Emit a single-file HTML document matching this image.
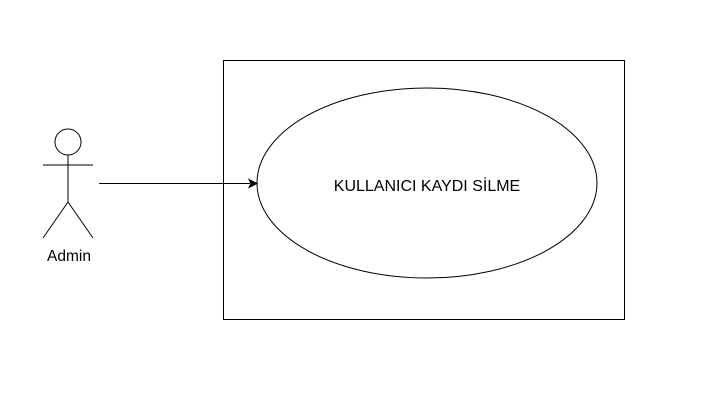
<!DOCTYPE html>
<html><head><style>html,body{margin:0;padding:0;background:#fff;}svg{display:block;}</style></head>
<body>
<svg width="728" height="412" xmlns="http://www.w3.org/2000/svg">
<rect x="223.5" y="60.5" width="401" height="259" fill="#fff" stroke="#000" stroke-width="1"/>
<ellipse cx="427" cy="183" rx="170" ry="95" fill="#fff" stroke="#000" stroke-width="1"/>
<text x="427" y="191" font-family="Liberation Sans, sans-serif" font-size="16" text-anchor="middle" fill="#000">KULLANICI KAYDI SİLME</text>
<circle cx="68" cy="142" r="13" fill="#fff" stroke="#000"/>
<line x1="68" y1="155" x2="68" y2="202" stroke="#000"/>
<line x1="43" y1="165" x2="93" y2="165" stroke="#000"/>
<line x1="68" y1="202" x2="43" y2="238" stroke="#000"/>
<line x1="68" y1="202" x2="93" y2="238" stroke="#000"/>
<text x="69" y="261" font-family="Liberation Sans, sans-serif" font-size="15.5" text-anchor="middle" fill="#000">Admin</text>
<line x1="99" y1="183.5" x2="250" y2="183.5" stroke="#000"/>
<polygon points="257,183.5 249,179.5 251,183.5 249,187.5" fill="#000" stroke="#000"/>
</svg>
</body></html>
